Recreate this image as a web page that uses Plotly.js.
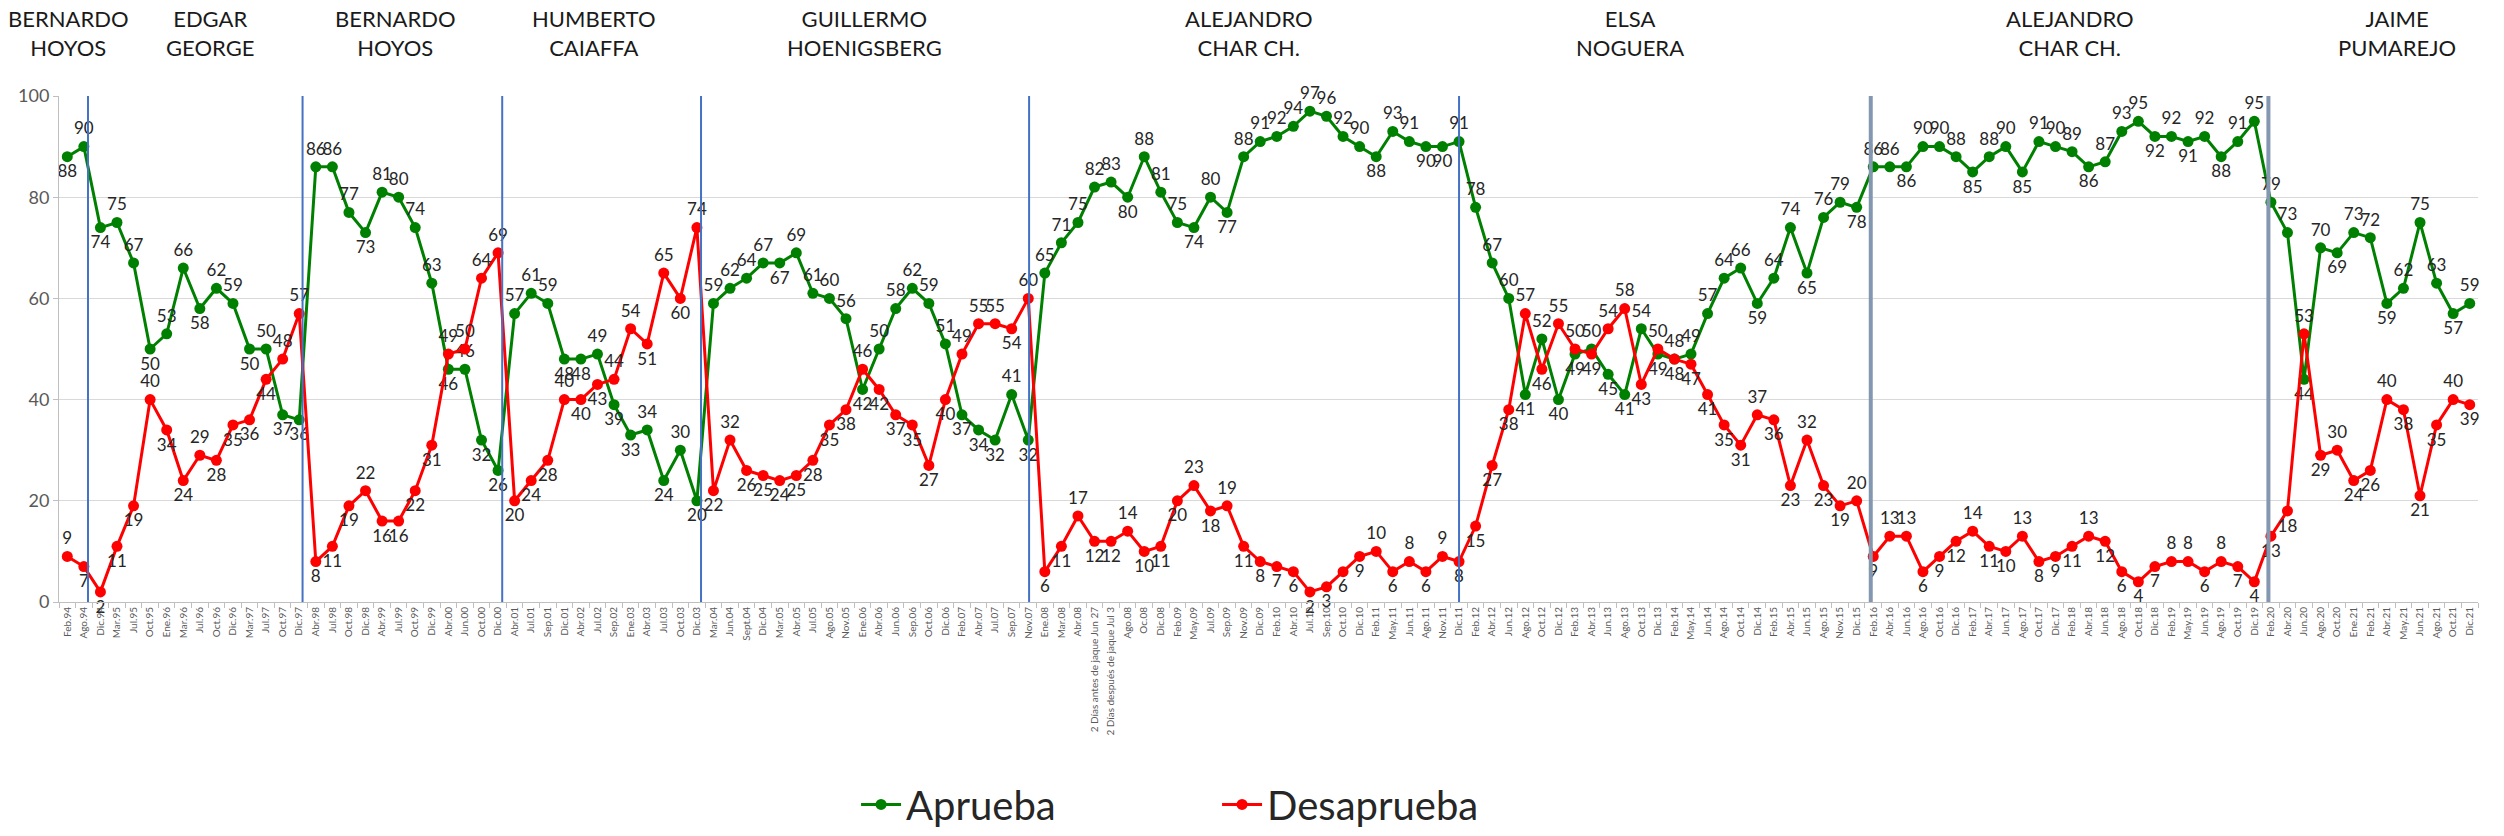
<!DOCTYPE html>
<html><head><meta charset="utf-8">
<script src="https://cdn.plot.ly/plotly-3.0.1.min.js"></script>
<style>html,body{margin:0;padding:0;background:#fff}</style>
</head><body><div id="chart" style="width:2504px;height:836px"></div>
<script>
const categories = [
"Feb.94","Ago.94","Dic.94","Mar.95","Jul.95","Oct.95","Ene.96","Mar.96","Jul.96","Oct.96",
"Dic.96","Mar.97","Jul.97","Oct.97","Dic.97","Abr.98","Jul.98","Oct.98","Dic.98","Abr.99",
"Jul.99","Oct.99","Dic.99","Abr.00","Jun.00","Oct.00","Dic.00","Abr.01","Jul.01","Sep.01",
"Dic.01","Abr.02","Jul.02","Sep.02","Ene.03","Abr.03","Jul.03","Oct.03","Dic.03","Mar.04",
"Jun.04","Sept.04","Dic.04","Mar.05","Abr.05","Jul.05","Ago.05","Nov.05","Ene.06","Abr.06",
"Jun.06","Sep.06","Oct.06","Dic.06","Feb.07","Abr.07","Jul.07","Sep.07","Nov.07","Ene.08",
"Mar.08","Abr.08","2 Días antes de jaque Jun 27","2 Días después de jaque Jul 3","Ago.08","Oc.08","Dic.08","Feb.09","May.09","Jul.09",
"Sep.09","Nov.09","Dic.09","Feb.10","Abr.10","Jul.10","Sep.10","Oct.10","Dic.10","Feb.11",
"May.11","Jun.11","Ago.11","Nov.11","Dic.11","Feb.12","Abr.12","Jun.12","Ago.12","Oct.12",
"Dic.12","Feb.13","Abr.13","Jun.13","Ago.13","Oct.13","Dic.13","Feb.14","May.14","Jun.14",
"Ago.14","Oct.14","Dic.14","Feb.15","Abr.15","Jun.15","Ago.15","Nov.15","Dic.15","Feb.16",
"Abr.16","Jun.16","Ago.16","Oct.16","Dic.16","Feb.17","Abr.17","Jun.17","Ago.17","Oct.17",
"Dic.17","Feb.18","Abr.18","Jun.18","Ago.18","Oct.18","Dic.18","Feb.19","May.19","Jun.19",
"Ago.19","Oct.19","Dic.19","Feb.20","Abr.20","Jun.20","Ago.20","Oct.20","Ene.21","Feb.21",
"Abr.21","May.21","Jun.21","Ago.21","Oct.21","Dic.21"
];
const aprueba = [
88,90,74,75,67,50,53,66,58,62,
59,50,50,37,36,86,86,77,73,81,
80,74,63,46,46,32,26,57,61,59,
48,48,49,39,33,34,24,30,20,59,
62,64,67,67,69,61,60,56,42,50,
58,62,59,51,37,34,32,41,32,65,
71,75,82,83,80,88,81,75,74,80,
77,88,91,92,94,97,96,92,90,88,
93,91,90,90,91,78,67,60,41,52,
40,49,50,45,41,54,49,48,49,57,
64,66,59,64,74,65,76,79,78,86,
86,86,90,90,88,85,88,90,85,91,
90,89,86,87,93,95,92,92,91,92,
88,91,95,79,73,44,70,69,73,72,
59,62,75,63,57,59
];
const desaprueba = [
9,7,2,11,19,40,34,24,29,28,
35,36,44,48,57,8,11,19,22,16,
16,22,31,49,50,64,69,20,24,28,
40,40,43,44,54,51,65,60,74,22,
32,26,25,24,25,28,35,38,46,42,
37,35,27,40,49,55,55,54,60,6,
11,17,12,12,14,10,11,20,23,18,
19,11,8,7,6,2,3,6,9,10,
6,8,6,9,8,15,27,38,57,46,
55,50,49,54,58,43,50,48,47,41,
35,31,37,36,23,32,23,19,20,9,
13,13,6,9,12,14,11,10,13,8,
9,11,13,12,6,4,7,8,8,6,
8,7,4,13,18,53,29,30,24,26,
40,38,21,35,40,39
];
const mandatarios = ["BERNARDO<br>HOYOS","EDGAR<br>GEORGE","BERNARDO<br>HOYOS","HUMBERTO<br>CAIAFFA","GUILLERMO<br>HOENIGSBERG","ALEJANDRO<br>CHAR CH.","ELSA<br>NOGUERA","ALEJANDRO<br>CHAR CH.","JAIME<br>PUMAREJO"];

// layout helpers (positions on the category axis, not data)
const mandatarioX = [0.06, 8.6, 19.8, 31.8, 48.1, 71.3, 94.3, 120.9, 140.6];
const separadores = [
  {x:1.25, c:'#4472C4', w:2}, {x:14.2, c:'#4472C4', w:2}, {x:26.25, c:'#4472C4', w:2},
  {x:38.25, c:'#4472C4', w:2}, {x:58.05, c:'#4472C4', w:2}, {x:84.0, c:'#4472C4', w:2},
  {x:108.85, c:'#8497B0', w:4}, {x:132.85, c:'#8497B0', w:4}
];

function labelPos(own, other){
  return own.map((v,i)=>{
    const p = i>0 ? own[i-1] : v, n = i<own.length-1 ? own[i+1] : v;
    const isMax = v>=p && v>=n, isMin = v<=p && v<=n;
    if (v >= other[i]) return (isMin && !isMax) ? 'bottom center' : 'top center';
    return (isMax && !isMin) ? 'top center' : 'bottom center';
  });
}

const FONT = 'Lato, "Open Sans", sans-serif';
const traces = [
  {x:categories, y:aprueba, name:'Aprueba', type:'scatter', mode:'lines+markers+text',
   line:{color:'#008000', width:3}, marker:{color:'#008000', size:11},
   text:aprueba.map(String), textposition:labelPos(aprueba, desaprueba),
   textfont:{family:FONT, size:17, color:'#262626'}, cliponaxis:false},
  {x:categories, y:desaprueba, name:'Desaprueba', type:'scatter', mode:'lines+markers+text',
   line:{color:'#FF0000', width:3}, marker:{color:'#FF0000', size:11},
   text:desaprueba.map(String), textposition:labelPos(desaprueba, aprueba),
   textfont:{family:FONT, size:17, color:'#262626'}, cliponaxis:false}
];

const layout = {
  width:2504, height:836,
  margin:{l:59, r:26, t:96, b:234, autoexpand:false},
  paper_bgcolor:'#fff', plot_bgcolor:'#fff',
  font:{family:FONT, color:'#404040'},
  showlegend:true,
  legend:{orientation:'h', x:0.3295, xanchor:'left', y:-0.4, yanchor:'middle',
          font:{family:FONT, size:40, color:'#262626'}, entrywidth:306, itemwidth:40,
          bgcolor:'rgba(0,0,0,0)'},
  xaxis:{type:'category', range:[-0.5, 145.5], tickmode:'linear', tick0:0, dtick:1,
         tickangle:-90, tickfont:{family:FONT, size:10, color:'#595959'},
         showline:true, linecolor:'#bfbfbf', linewidth:1, ticks:'outside', ticklen:5,
         tickcolor:'#bfbfbf', tickson:'boundaries', showgrid:false, zeroline:false, automargin:false},
  yaxis:{range:[0,100], dtick:20, tickfont:{family:FONT, size:18, color:'#595959'},
         showline:true, linecolor:'#bfbfbf', ticks:'outside', ticklen:5, tickcolor:'#bfbfbf',
         gridcolor:'#d9d9d9', gridwidth:1, zeroline:false, automargin:false},
  shapes: separadores.map(s=>({type:'line', xref:'x', yref:'y', x0:s.x, x1:s.x, y0:0, y1:100,
          line:{color:s.c, width:s.w}, layer:'above'})),
  annotations: mandatarios.map((t,i)=>({text:t, xref:'x', yref:'paper', x:mandatarioX[i], y:1.125,
          xanchor:'center', yanchor:'middle', showarrow:false,
          font:{family:FONT, size:22, color:'#1a1a1a'}}))
};

Plotly.newPlot('chart', traces, layout, {displayModeBar:false, staticPlot:true});
</script></body></html>
